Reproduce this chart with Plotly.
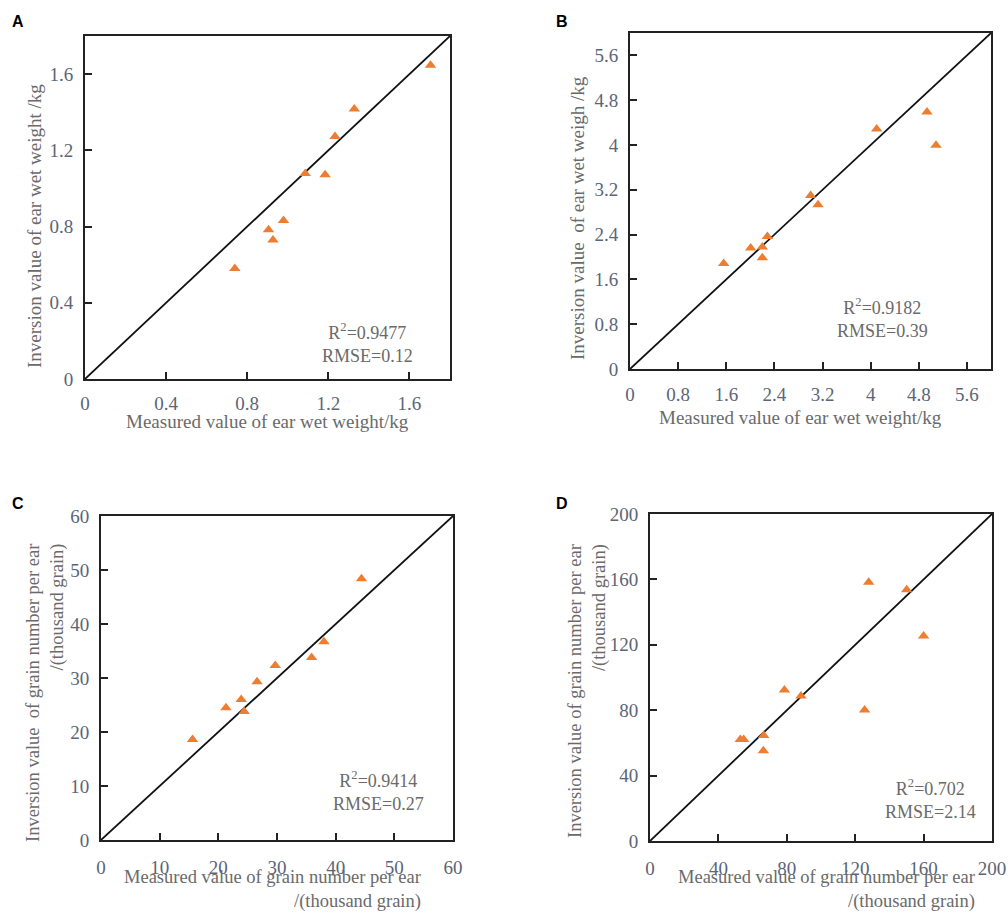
import plotly.graph_objects as go

W, H = 1008, 913

# ---------------- data ----------------
a_measured = [1.704, 1.328, 1.233, 1.086, 1.184, 0.979, 0.905, 0.927, 0.739]
a_inverted = [1.646, 1.417, 1.273, 1.079, 1.072, 0.832, 0.783, 0.730, 0.580]
a_ticks = [0, 0.4, 0.8, 1.2, 1.6]
a_labels = ["0", "0.4", "0.8", "1.2", "1.6"]

b_measured = [1.557, 2.006, 2.199, 2.199, 2.283, 3.003, 3.125, 4.10, 4.936, 5.086]
b_inverted = [1.884, 2.159, 2.180, 1.986, 2.367, 3.100, 2.934, 4.287, 4.590, 3.995]
b_ticks = [0, 0.8, 1.6, 2.4, 3.2, 4, 4.8, 5.6]
b_labels = ["0", "0.8", "1.6", "2.4", "3.2", "4", "4.8", "5.6"]

c_measured = [15.6, 21.3, 23.9, 24.4, 26.6, 29.7, 35.9, 38.0, 44.4]
c_inverted = [18.6, 24.5, 26.0, 23.8, 29.3, 32.3, 33.8, 36.7, 48.4]
c_ticks = [0, 10, 20, 30, 40, 50, 60]
c_labels = ["0", "10", "20", "30", "40", "50", "60"]

d_measured = [52.8, 54.8, 66.5, 66.3, 78.6, 88.3, 125.5, 127.9, 150.1, 160.0]
d_inverted = [62.1, 62.1, 64.6, 55.2, 92.3, 88.7, 80.1, 158.3, 153.6, 125.4]
d_ticks = [0, 40, 80, 120, 160, 200]
d_labels = ["0", "40", "80", "120", "160", "200"]

stats = {
    "A": ("R<sup>2</sup>=0.9477", "RMSE=0.12"),
    "B": ("R<sup>2</sup>=0.9182", "RMSE=0.39"),
    "C": ("R<sup>2</sup>=0.9414", "RMSE=0.27"),
    "D": ("R<sup>2</sup>=0.702", "RMSE=2.14"),
}

# ---------------- layout helpers ----------------
def px_x(x):
    return x / W

def px_y(y):
    return 1 - y / H

SERIF = "Liberation Serif, Times New Roman, serif"
TICK_COLOR = "#5b6577"
TEXT_COLOR = "#6a6a6a"
ORANGE = "#ED7D31"

# panel frames in pixels: left, right, top, bottom
panels = [
    dict(key="A", x=a_measured, y=a_inverted, rng=1.8, ticks=a_ticks, labels=a_labels,
         frame=(85, 450, 36, 379), xstand=6),
    dict(key="B", x=b_measured, y=b_inverted, rng=6.0, ticks=b_ticks, labels=b_labels,
         frame=(630, 991, 33, 369), xstand=7),
    dict(key="C", x=c_measured, y=c_inverted, rng=60, ticks=c_ticks, labels=c_labels,
         frame=(101, 453, 516, 840), xstand=9),
    dict(key="D", x=d_measured, y=d_inverted, rng=200, ticks=d_ticks, labels=d_labels,
         frame=(650, 992, 514, 841), xstand=9),
]

fig = go.Figure()
layout = dict(
    width=W, height=H, autosize=False,
    margin=dict(l=0, r=0, t=0, b=0, autoexpand=False),
    paper_bgcolor="white", plot_bgcolor="white",
    showlegend=False,
    annotations=[],
)

for i, p in enumerate(panels):
    n = "" if i == 0 else str(i + 1)
    xa, ya = "x" + n, "y" + n
    l, r, t, b = p["frame"]
    axis_common = dict(
        range=[0, p["rng"]],
        tickvals=p["ticks"], ticktext=p["labels"],
        ticks="inside", ticklen=7, tickwidth=1.5, tickcolor="#222",
        showline=True, linecolor="#222", linewidth=1.8, mirror=True,
        showgrid=False, zeroline=False,
        tickfont=dict(family=SERIF, size=19, color=TICK_COLOR),
        fixedrange=True,
    )
    layout["xaxis" + n] = dict(axis_common, domain=[px_x(l), px_x(r)], anchor=ya,
                               ticklabelstandoff=p["xstand"])
    layout["yaxis" + n] = dict(axis_common, domain=[px_y(b), px_y(t)], anchor=xa,
                               ticklabelstandoff=6)

    # 1:1 line
    fig.add_trace(go.Scatter(x=[0, p["rng"]], y=[0, p["rng"]], mode="lines",
                             line=dict(color="#111", width=1.8),
                             xaxis=xa, yaxis=ya, hoverinfo="skip"))
    # points
    fig.add_trace(go.Scatter(x=p["x"], y=p["y"], mode="markers",
                             marker=dict(symbol="triangle-up", size=10, color=ORANGE),
                             xaxis=xa, yaxis=ya))

# stats text (inside plot, bottom right)
stat_pos = {"A": (367, 343), "B": (882, 318), "C": (378, 791), "D": (930, 799)}
for key in ["A", "B", "C", "D"]:
    r2, rmse = stats[key]
    cx, cy = stat_pos[key]
    layout["annotations"].append(dict(
        text=r2 + "<br>" + rmse, xref="paper", yref="paper",
        x=px_x(cx), y=px_y(cy), xanchor="center", yanchor="middle",
        showarrow=False, align="center",
        font=dict(family=SERIF, size=18, color=TEXT_COLOR)))

def add_text(text, x, y, angle=0, xanchor="center", yanchor="middle", align="center",
             size=19, color=TEXT_COLOR, family=SERIF):
    layout["annotations"].append(dict(
        text=text, xref="paper", yref="paper", x=px_x(x), y=px_y(y),
        xanchor=xanchor, yanchor=yanchor, textangle=angle, align=align,
        showarrow=False, font=dict(family=family, size=size, color=color)))

# panel letters
for letter, (x, y) in {"A": (18, 21), "B": (562, 21), "C": (18, 503), "D": (562, 503)}.items():
    add_text("<b>" + letter + "</b>", x, y, size=16, color="#000",
             family="Liberation Sans, Arial, sans-serif")

# axis titles
add_text("Measured value of ear wet weight/kg", 267, 421)
add_text("Inversion value of ear wet weight /kg", 35, 226, angle=-90)
add_text("Measured value of ear wet weight/kg", 800, 418)
add_text("Inversion value  of ear wet weigh /kg", 577, 218, angle=-90)

add_text("Measured value of grain number per ear<br>/(thousand grain)", 423, 889,
         xanchor="right", align="right", size=18.5)
add_text("Inversion value  of grain number per ear<br>/(thousand grain)", 45, 542,
         angle=-90, xanchor="center", yanchor="top", align="right", size=18.5)
add_text("Measured value of grain number per ear<br>/(thousand grain)", 977, 889,
         xanchor="right", align="right", size=18.5)
add_text("Inversion value of grain number per ear<br>/(thousand grain)", 587, 542,
         angle=-90, xanchor="center", yanchor="top", align="right", size=18.5)

fig.update_layout(**layout)
fig.write_html("out.html",
               config={"displayModeBar": False},
               post_script="document.body.style.margin='0';document.body.style.overflow='hidden';")
